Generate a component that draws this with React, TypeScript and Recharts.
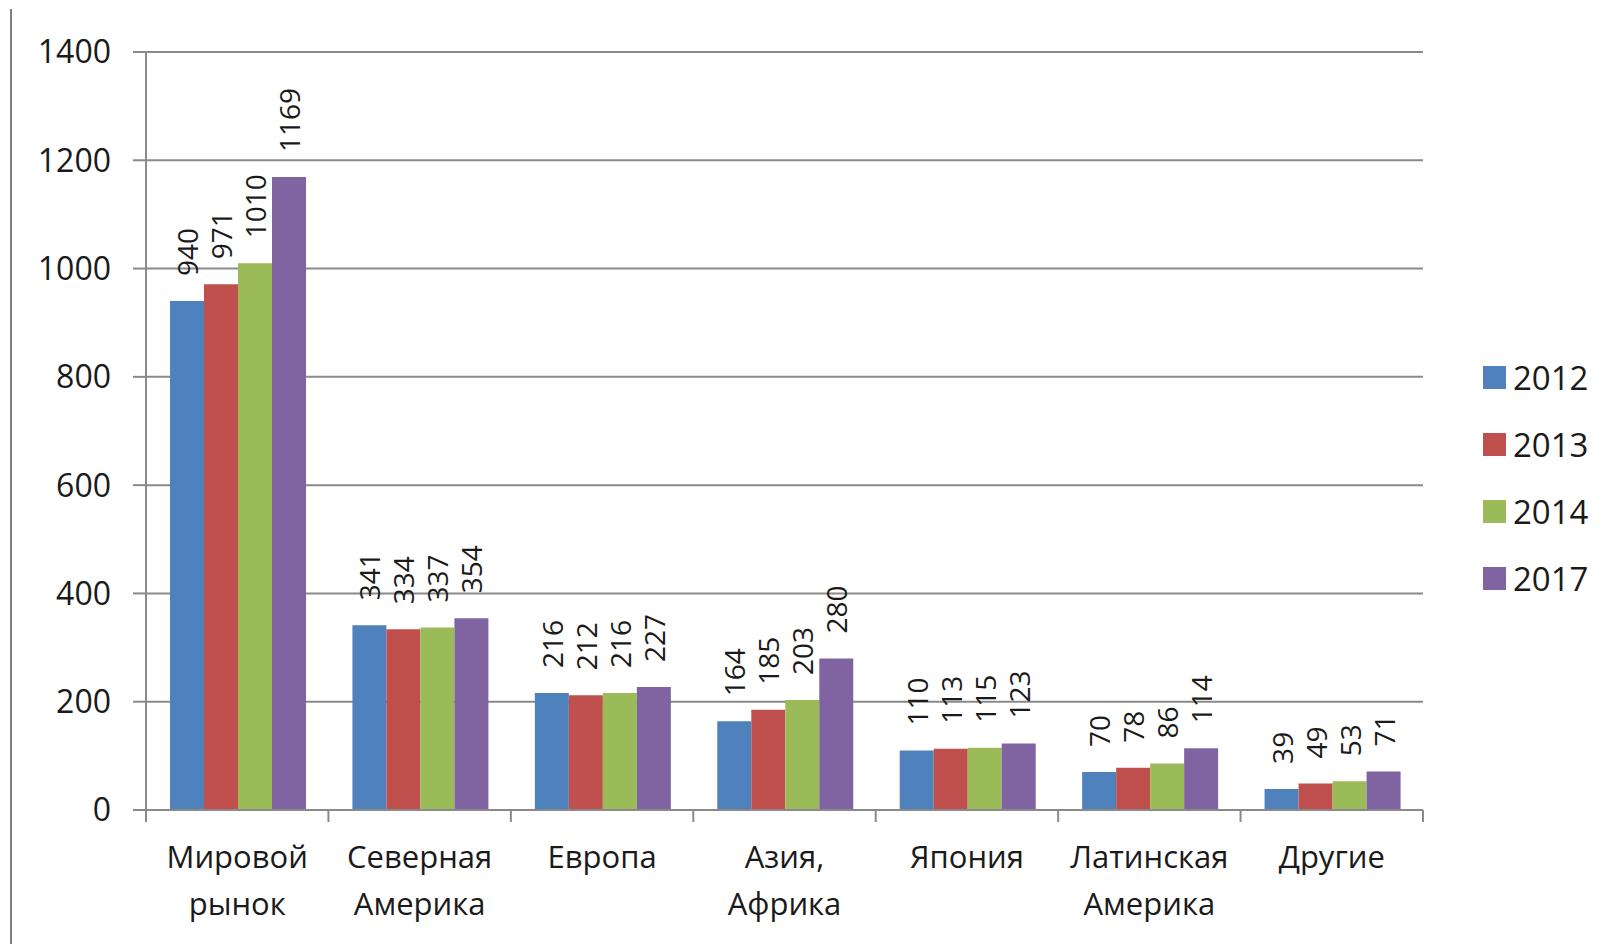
import { BarChart, Bar, XAxis, YAxis, CartesianGrid, LabelList } from 'recharts';

const categories = [
  'Мировой\nрынок',
  'Северная\nАмерика',
  'Европа',
  'Азия,\nАфрика',
  'Япония',
  'Латинская\nАмерика',
  'Другие',
];
const v2012 = [940, 341, 216, 164, 110, 70, 39];
const v2013 = [971, 334, 212, 185, 113, 78, 49];
const v2014 = [1010, 337, 216, 203, 115, 86, 53];
const v2017 = [1169, 354, 227, 280, 123, 114, 71];
const yTicks = [0, 200, 400, 600, 800, 1000, 1200, 1400];

const series = [
  { key: 'y2012', name: '2012', color: '#4F81BD', values: v2012 },
  { key: 'y2013', name: '2013', color: '#C0504D', values: v2013 },
  { key: 'y2014', name: '2014', color: '#9BBB59', values: v2014 },
  { key: 'y2017', name: '2017', color: '#8064A2', values: v2017 },
];

const data = categories.map((cat, i) => {
  const row: Record<string, string | number> = { cat };
  series.forEach(s => {
    row[s.key] = s.values[i];
  });
  return row;
});

const W = 1610;
const H = 944;
const AXIS_LEFT = 146;
const RIGHT = 187;
const BAND = (W - AXIS_LEFT - RIGHT) / categories.length;
const GRID = '#8a8a8a';
const TEXT = '#1a1a1a';
const FONT = '"Open Sans", sans-serif';

function CategoryTick(props: any) {
  const { x, y, payload, index } = props;
  const lines = String(payload.value).split('\n');
  return (
    <g>
      <line x1={x - BAND / 2} y1={y} x2={x - BAND / 2} y2={y + 12} stroke={GRID} strokeWidth={2} />
      {index === categories.length - 1 && (
        <line x1={x + BAND / 2} y1={y} x2={x + BAND / 2} y2={y + 12} stroke={GRID} strokeWidth={2} />
      )}
      <text x={x} y={y} textAnchor="middle" fill={TEXT} fontSize={31} fontFamily={FONT}>
        {lines.map((l, i) => (
          <tspan key={i} x={x} y={y + 58 + i * 47}>
            {l}
          </tspan>
        ))}
      </text>
    </g>
  );
}

function ValueLabel(props: any) {
  const { x, y, width, value } = props;
  return (
    <text
      transform={`translate(${x + width / 2}, ${y - 25}) rotate(-90)`}
      textAnchor="start"
      dominantBaseline="central"
      fill={TEXT}
      fontSize={28}
      fontFamily={FONT}
    >
      {value}
    </text>
  );
}

export default function App() {
  return (
    <div style={{ position: 'absolute', left: 0, top: 0, width: W, height: H, background: '#fff', fontFamily: FONT }}>
      <div style={{ position: 'absolute', left: 10, top: 9, width: 2, height: H - 9, background: '#7f7f7f' }} />
      <BarChart
        width={W}
        height={H}
        data={data}
        margin={{ top: 52, right: RIGHT, left: 0, bottom: 0 }}
        barCategoryGap={24}
        barGap={0}
      >
        <CartesianGrid vertical={false} stroke={GRID} strokeWidth={2} />
        <XAxis
          dataKey="cat"
          height={134}
          interval={0}
          tickSize={0}
          tickMargin={0}
          tickLine={false}
          axisLine={{ stroke: GRID, strokeWidth: 2 }}
          tick={<CategoryTick />}
        />
        <YAxis
          width={AXIS_LEFT}
          domain={[0, 1400]}
          ticks={yTicks}
          interval={0}
          tickSize={13}
          tickMargin={22}
          axisLine={{ stroke: GRID, strokeWidth: 2 }}
          tickLine={{ stroke: GRID, strokeWidth: 2 }}
          tick={{ fill: TEXT, fontSize: 32, fontFamily: FONT }}
        />
        {series.map(s => (
          <Bar key={s.key} dataKey={s.key} name={s.name} fill={s.color} isAnimationActive={false}>
            <LabelList dataKey={s.key} content={<ValueLabel />} />
          </Bar>
        ))}
      </BarChart>
      <div style={{ position: 'absolute', left: 1483, top: 344 }}>
        {series.map(s => (
          <div key={s.key} style={{ display: 'flex', alignItems: 'center', height: 67 }}>
            <span style={{ width: 23, height: 23, background: s.color, display: 'inline-block', marginRight: 7 }} />
            <span style={{ fontSize: 33, color: TEXT, lineHeight: '38px' }}>{s.name}</span>
          </div>
        ))}
      </div>
    </div>
  );
}
